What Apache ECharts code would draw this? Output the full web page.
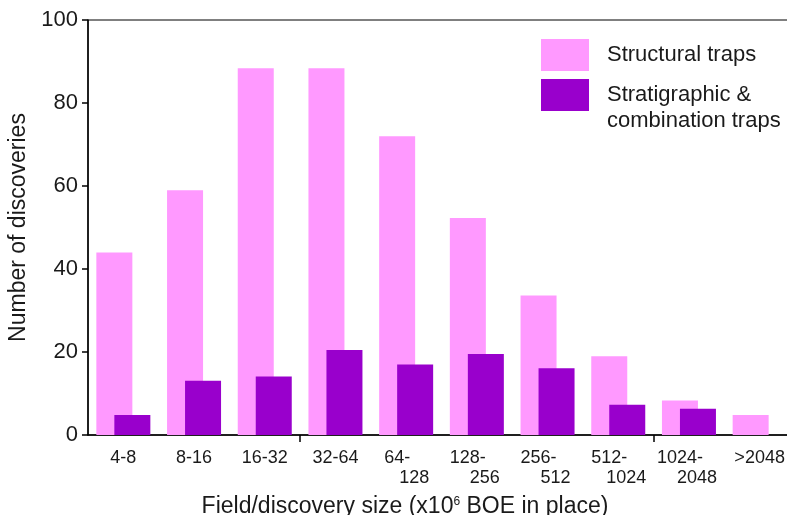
<!DOCTYPE html>
<html>
<head>
<meta charset="utf-8">
<script src="https://cdn.jsdelivr.net/npm/echarts@6/dist/echarts.min.js"></script>
<style>html,body{margin:0;padding:0;background:#fff;}#c{width:787px;height:515px;}</style>
</head>
<body>
<div id="c"></div>
<script>
const categories = ['4-8','8-16','16-32','32-64','64-\n128','128-\n256','256-\n512','512-\n1024','1024-\n2048','>2048'];
const structural = [44, 59, 88.4, 88.4, 72, 52.3, 33.6, 19, 8.3, 4.8];
const stratigraphic = [4.8, 13.1, 14.1, 20.5, 17, 19.5, 16.1, 7.3, 6.3, 0];
const yTicks = [0, 20, 40, 60, 80, 100];
const seriesNames = ['Structural traps', 'Stratigraphic &\ncombination traps'];

const FONT = "'Liberation Sans', Arial, sans-serif";
const TXT = '#1a1a1a';
const legendText = {fontFamily: FONT, fontSize: 22, color: TXT, lineHeight: 26, padding: [0, 0, 0, 13]};
const chart = echarts.init(document.getElementById('c'), null, {renderer: 'canvas'});
chart.setOption({
  animation: false,
  backgroundColor: '#fff',
  textStyle: {fontFamily: FONT, color: TXT},
  grid: {left: 88, top: 20, width: 707, height: 415, outerBoundsMode: 'none', containLabel: false,
    show: true, borderColor: '#000', borderWidth: 1, backgroundColor: 'transparent'},
  legend: [
    {
      orient: 'vertical', left: 536, top: 34, itemWidth: 48, itemHeight: 32,
      icon: 'rect', selectedMode: false, textStyle: legendText,
      data: [seriesNames[0]]
    },
    {
      orient: 'vertical', left: 536, top: 51, itemWidth: 48, itemHeight: 32,
      icon: 'rect', selectedMode: false, textStyle: legendText,
      formatter: function (name) { return ' \n' + name; },
      data: [seriesNames[1]]
    }
  ],
  xAxis: {
    type: 'category', data: categories,
    axisLine: {lineStyle: {color: '#000', width: 1.5}},
    axisTick: {show: true, length: 7, interval: function (i) { return i === 3 || i === 8; }, lineStyle: {color: '#000', width: 1.5}},
    axisLabel: {
      interval: 0, margin: 13, fontSize: 18, color: TXT, lineHeight: 20, fontFamily: FONT,
      formatter: function (v) {
        const p = v.split('\n');
        if (p.length === 1) return v;
        return '{a|' + p[0] + '}\n{b|' + p[1] + '}';
      },
      rich: {
        a: {fontSize: 18, lineHeight: 20, padding: [0, 18, 0, 0], fontFamily: FONT, color: TXT},
        b: {fontSize: 18, lineHeight: 20, padding: [0, 0, 0, 16], fontFamily: FONT, color: TXT}
      }
    },
    name: 'Field/discovery size (x10{s|6} BOE in place)',
    nameLocation: 'middle', nameGap: 60,
    nameTextStyle: {
      fontSize: 23, color: TXT, fontFamily: FONT, padding: [0, 73, 0, 0],
      rich: {s: {fontSize: 12, color: TXT, fontFamily: FONT, padding: [0, 0, 10, 0]}}
    }
  },
  yAxis: {
    type: 'value', min: 0, max: 100, interval: 20,
    axisLine: {show: true, lineStyle: {color: '#000', width: 1.5}},
    axisTick: {show: true, length: 6, lineStyle: {color: '#000', width: 1.5}},
    splitLine: {show: false},
    axisLabel: {margin: 10, fontSize: 22, color: TXT, fontFamily: FONT,
      formatter: function (v) { return yTicks.indexOf(v) >= 0 ? String(v) : ''; }},
    name: 'Number of discoveries', nameLocation: 'middle', nameGap: 57,
    nameTextStyle: {fontSize: 23, color: TXT, fontFamily: FONT}
  },
  series: [
    {name: seriesNames[0], type: 'bar', data: structural, barWidth: 36, barGap: '-50%', itemStyle: {color: '#ff99ff'}},
    {name: seriesNames[1], type: 'bar', data: stratigraphic, barWidth: 36, barGap: '-50%', itemStyle: {color: '#9900cc'}}
  ]
});
</script>
</body>
</html>
